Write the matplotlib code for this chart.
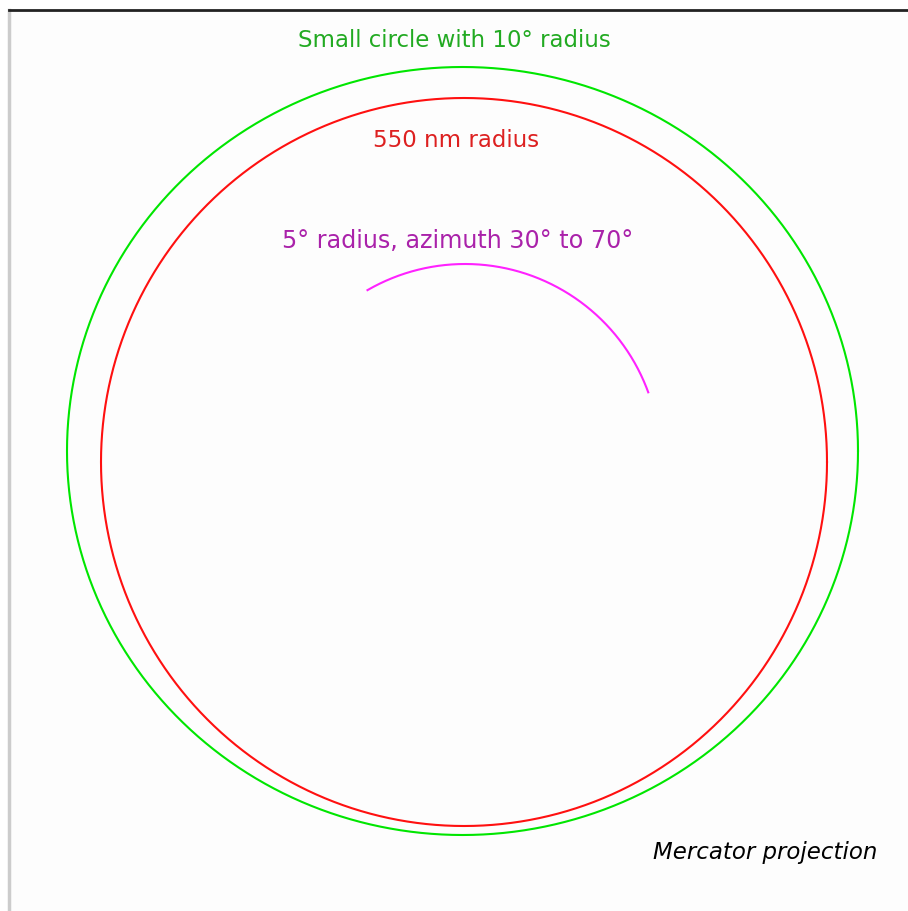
import numpy as np
import matplotlib
matplotlib.use("Agg")
import matplotlib.pyplot as plt

# small circles, measured in map (screen) units
circle_labels = ["Small circle with 10° radius", "550 nm radius"]
circle_cx = [462.5, 464.0]
circle_cy = [451.0, 462.0]
circle_rx = [395.5, 363.0]
circle_ry = [384.0, 364.0]
circle_colors = ["#00e600", "#ff1010"]
label_colors = ["#22aa22", "#dd2020"]
label_y = [41, 141]

# partial circle: 5 deg radius, azimuth range as drawn
arc_label = "5° radius, azimuth 30° to 70°"
arc_cx = 465.0
arc_cy = 459.0
arc_r = 195.0
arc_az = [-30, 70]

fig = plt.figure(figsize=(9.08, 9.11), dpi=100)
fig.patch.set_facecolor("white")
ax = fig.add_axes([9 / 908, 0, 899 / 908, 901 / 911])
ax.set_facecolor("#fdfdfd")
ax.set_xlim(9, 908)
ax.set_ylim(911, 10)
ax.set_xticks([])
ax.set_yticks([])
ax.spines["top"].set_color("#222222")
ax.spines["top"].set_linewidth(2)
ax.spines["left"].set_color("#cccccc")
ax.spines["left"].set_linewidth(2.5)
ax.spines["right"].set_visible(False)
ax.spines["bottom"].set_visible(False)

t = np.linspace(0, 2 * np.pi, 721)
for i in range(len(circle_labels)):
    ax.plot(circle_cx[i] + circle_rx[i] * np.cos(t),
            circle_cy[i] + circle_ry[i] * np.sin(t),
            color=circle_colors[i], lw=1.5)
    ax.text(circle_cx[i] - 8, label_y[i], circle_labels[i], color=label_colors[i],
            ha="center", va="center", fontsize=16.5)

az = np.radians(np.linspace(arc_az[0], arc_az[1], 200))
ax.plot(arc_cx + arc_r * np.sin(az), arc_cy - arc_r * np.cos(az),
        color="#ff22ff", lw=1.5)
ax.text(458, 241, arc_label, color="#aa22aa", ha="center", va="center", fontsize=17.2)

ax.text(765, 853, "Mercator projection", color="black", ha="center", va="center",
        fontsize=16.5, style="italic")

fig.savefig("out.png", dpi=100)
